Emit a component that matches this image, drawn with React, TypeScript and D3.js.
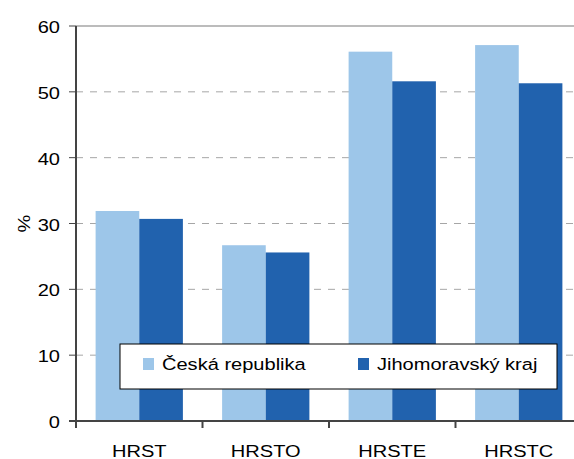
import React from "react";
import * as d3 from "d3";

const categories = ["HRST", "HRSTO", "HRSTE", "HRSTC"];
const seriesNames = ["Česká republika", "Jihomoravský kraj"];
const czValues = [31.9, 26.7, 56.1, 57.1];
const jmkValues = [30.7, 25.6, 51.6, 51.3];
const yTicks = [0, 10, 20, 30, 40, 50, 60];
const colors = ["#9DC6E9", "#2162AE"];

const W = 574, H = 459;
const left = 76, right = 582, top = 26, bottom = 421;
const font = "'Liberation Sans', Arial, sans-serif";
const SX = 1.18;

function T({ x, y, anchor = "start", children }: { x: number; y: number; anchor?: string; children: React.ReactNode }) {
  return (
    <g transform={`translate(${x},${y}) scale(${SX},1)`}>
      <text x={0} y={0} textAnchor={anchor} fontSize={17} fill="#000">{children}</text>
    </g>
  );
}

export default function App() {
  const x = d3.scaleBand<string>().domain(categories).range([left, right]).paddingInner(0.31).paddingOuter(0.155);
  const y = d3.scaleLinear().domain([0, 60]).range([bottom, top]);
  const band = d3.scaleBand<string>().domain(categories).range([left, right]);
  const bw = x.bandwidth() / 2;
  const series = [czValues, jmkValues];

  return (
    <svg width={W} height={H} style={{ position: "absolute", left: 0, top: 0, fontFamily: font }}>
      <rect width={W} height={H} fill="#fff" />
      {yTicks.filter(t => t > 0 && t < 60).map(t => (
        <line key={t} x1={left} x2={W} y1={y(t)} y2={y(t)} stroke="#a6a6a6" strokeWidth={1} strokeDasharray="7,7" />
      ))}
      <line x1={left} x2={W} y1={y(60)} y2={y(60)} stroke="#a6a6a6" strokeWidth={1.5} />
      {series.map((vals, si) =>
        categories.map((c, i) => (
          <rect key={c + si} x={(x(c) as number) + si * bw} y={y(vals[i])} width={bw} height={bottom - y(vals[i])} fill={colors[si]} />
        ))
      )}
      <line x1={left} x2={left} y1={top} y2={bottom + 7} stroke="#444" strokeWidth={2} />
      <line x1={left - 7} x2={W} y1={bottom} y2={bottom} stroke="#444" strokeWidth={2} />
      {yTicks.map(t => (
        <g key={t}>
          <line x1={left - 7} x2={left} y1={y(t)} y2={y(t)} stroke="#444" strokeWidth={1} />
          <T x={left - 16} y={y(t) + 7} anchor="end">{t}</T>
        </g>
      ))}
      {categories.map((c) => (
        <g key={c}>
          <line x1={(band(c) as number) + band.bandwidth()} x2={(band(c) as number) + band.bandwidth()} y1={bottom} y2={bottom + 7} stroke="#444" strokeWidth={2} />
          <T x={(band(c) as number) + band.bandwidth() / 2} y={457} anchor="middle">{c}</T>
        </g>
      ))}
      <g transform={`translate(30,${y(30)}) rotate(-90) scale(${SX},1)`}>
        <text textAnchor="middle" fontSize={17} fill="#000">%</text>
      </g>
      <rect x={120} y={344} width={437} height={45} fill="#fff" stroke="#000" strokeWidth={1} />
      {seriesNames.map((n, i) => (
        <g key={n}>
          <rect x={i === 0 ? 143 : 358} y={358} width={11} height={12} fill={colors[i]} />
          <T x={i === 0 ? 162 : 377} y={370}>{n}</T>
        </g>
      ))}
    </svg>
  );
}
